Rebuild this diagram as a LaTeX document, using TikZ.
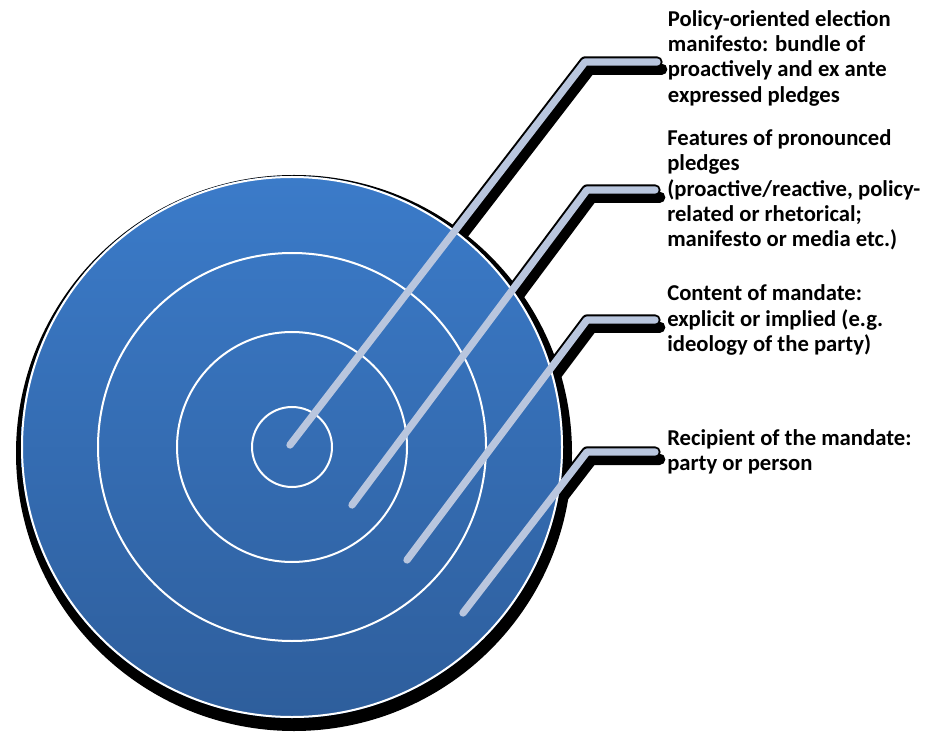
\documentclass[tikz,border=0pt]{standalone}
\usepackage{fontspec}
\setmainfont{Carlito}
\usetikzlibrary{positioning}

\definecolor{targettop}{HTML}{3B7BC9}
\definecolor{targetbottom}{HTML}{2E5E9C}
\definecolor{leaderblue}{HTML}{B9C6DE}

\begin{document}
\begin{tikzpicture}[x=0.75pt,y=0.75pt]
        \tikzstyle{note}=[align=left, inner sep=0pt, font=\bfseries\fontsize{17}{19}\selectfont, text=black]
        \tikzstyle{dropline}=[black, line width=8.5pt, line cap=round, line join=round]
        \tikzstyle{leadline}=[leaderblue, line width=5.5pt, line cap=round, line join=round]
        \tikzstyle{ring}=[white, line width=1.5pt]

        \useasboundingbox (0,0) rectangle (927,736);

        \coordinate (o) at (292,289);

        \coordinate (s1) at (290,291);  \coordinate (k1) at (585,674);  \coordinate (e1) at (657,674);
        \coordinate (s2) at (352,231);  \coordinate (k2) at (587,546);  \coordinate (e2) at (655,546);
        \coordinate (s3) at (407,176);  \coordinate (k3) at (587,416);  \coordinate (e3) at (655,416);
        \coordinate (s4) at (463,123);  \coordinate (k4) at (587,284);  \coordinate (e4) at (655,284);

        \node[note, right=8pt of e1, yshift=3pt] (pledges)   {Policy-oriented election\\ manifesto: bundle of\\ proactively and ex ante\\ expressed pledges};
        \node[note, right=9pt of e2]             (features)  {Features of pronounced\\ pledges\\ (proactive/reactive, policy-\\ related or rhetorical;\\ manifesto or media etc.)};
        \node[note, right=9pt of e3]             (content)   {Content of mandate:\\ explicit or implied (e.g.\\ ideology of the party)};
        \node[note, right=9pt of e4]             (recipient) {Recipient of the mandate:\\ party or person};

        % black outline and shadow of the leaders
        \foreach \i in {1,...,4} {
            \draw[dropline] (s\i) -- (k\i) -- (e\i);
            \draw[dropline] ([xshift=3.5pt,yshift=-5.5pt]s\i) -- ([xshift=3.5pt,yshift=-5.5pt]k\i) -- ([xshift=3.5pt,yshift=-5.5pt]e\i);
        }

        % target
        \fill[black] ([xshift=1.5pt,yshift=-4.5pt]o) circle (278);
        \shade[top color=targettop, bottom color=targetbottom] (o) circle (271);
        \draw[ring] (o) circle (270);
        \foreach \r in {40,115,194}
            \draw[ring] (o) circle (\r);

        \foreach \i in {1,...,4}
            \draw[leadline] (s\i) -- (k\i) -- (e\i);
    \end{tikzpicture}
\end{document}
